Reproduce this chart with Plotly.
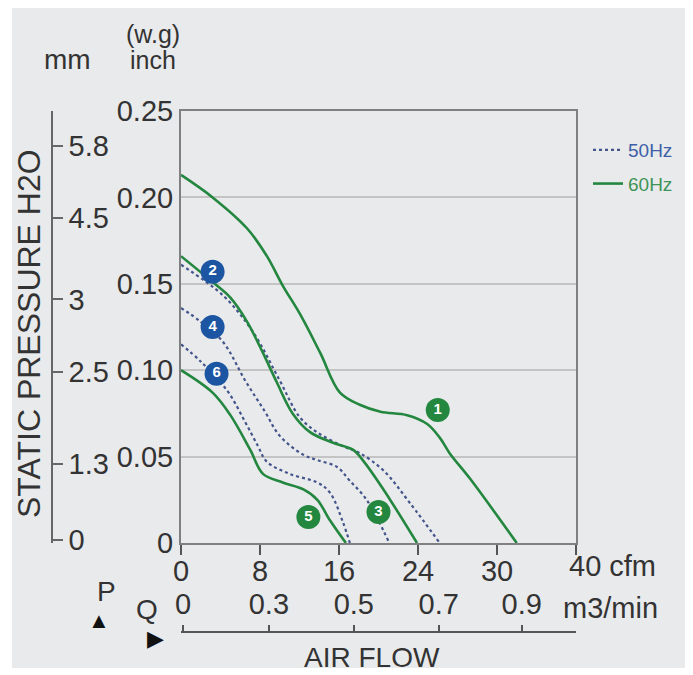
import plotly.graph_objects as go

# ---------------- data ----------------
# 60 Hz curves (green, solid)
c1_x = [0, 3.2, 6.7, 8.7, 10.3, 12.1, 14.1, 16.1, 18.1, 20.2, 22.9, 24.9, 26.2, 27.2, 29.3, 34.0]
c1_y = [0.213, 0.200, 0.182, 0.166, 0.149, 0.132, 0.110, 0.087, 0.080, 0.076, 0.074, 0.069, 0.061, 0.052, 0.037, 0.0]
c3_x = [0, 3.2, 5.0, 6.7, 8.3, 9.7, 11.3, 13.1, 15.4, 17.4, 18.4, 20.5, 23.9]
c3_y = [0.166, 0.151, 0.142, 0.128, 0.110, 0.093, 0.075, 0.064, 0.058, 0.054, 0.048, 0.031, 0.0]
c5_x = [0, 3.2, 5.0, 7.0, 8.3, 10.3, 12.4, 13.8, 15.1, 16.7]
c5_y = [0.100, 0.087, 0.074, 0.054, 0.040, 0.035, 0.031, 0.025, 0.013, 0.0]
# 50 Hz curves (blue, dotted)
c2_x = [0, 4.3, 7.3, 10.0, 12.0, 13.8, 16.4, 18.1, 20.5, 23.2, 26.2]
c2_y = [0.161, 0.143, 0.122, 0.094, 0.073, 0.064, 0.056, 0.052, 0.042, 0.023, 0.0]
c4_x = [0, 2.0, 4.3, 6.5, 8.5, 10.0, 12.4, 13.8, 15.8, 17.1, 18.8, 21.1]
c4_y = [0.136, 0.128, 0.116, 0.094, 0.076, 0.062, 0.051, 0.048, 0.044, 0.036, 0.025, 0.0]
c6_x = [0, 2.0, 4.7, 6.5, 7.8, 8.7, 11.0, 13.8, 15.1, 16.4, 17.1]
c6_y = [0.115, 0.105, 0.088, 0.070, 0.056, 0.047, 0.040, 0.035, 0.029, 0.012, 0.0]

# curve number badges
badge_labels = ["1", "2", "3", "4", "5", "6"]
badge_x = [26.0, 3.2, 20.0, 3.2, 12.9, 3.6]
badge_y = [0.077, 0.157, 0.018, 0.125, 0.015, 0.098]
badge_hz = ["60Hz", "50Hz", "60Hz", "50Hz", "60Hz", "50Hz"]

# tick labels
inch_ticks = [0, 0.05, 0.10, 0.15, 0.20, 0.25]
inch_labels = ["0", "0.05", "0.10", "0.15", "0.20", "0.25"]
mm_labels = ["0", "1.3", "2.5", "3", "4.5", "5.8"]
cfm_ticks = [0, 8, 16, 24, 32, 40]
cfm_labels = ["0", "8", "16", "24", "30", ""]
m3_labels = ["0", "0.3", "0.5", "0.7", "0.9"]

GREEN = "#23873f"
BLUE_LINE = "#44558c"
BLUE_BADGE = "#1c56a3"
TXT = "#333333"
FONT = "Arial, Liberation Sans, sans-serif"

# the page puts the figure 8 px from the top-left corner
OX, OY = 8, 8
W, H = 685, 667
ML, MR, MT, MB = 2, 117, 2, 12
PW, PH = W - ML - MR, H - MT - MB


def px(xp, yp):
    """picture pixel -> paper fraction"""
    return (xp - OX - ML) / PW, (H - MB - (yp - OY)) / PH


x0d, _ = px(181, 0)
_, y0d = px(0, 543)
_, y1d = px(0, 111)

fig = go.Figure()

curves = [
    (c2_x, c2_y, "50Hz"), (c4_x, c4_y, "50Hz"), (c6_x, c6_y, "50Hz"),
    (c1_x, c1_y, "60Hz"), (c3_x, c3_y, "60Hz"), (c5_x, c5_y, "60Hz"),
]
shown = set()
for xs, ys, hz in curves:
    is50 = hz == "50Hz"
    col = BLUE_LINE if is50 else GREEN
    name_html = ("<span style='color:#3e5fa8'>50Hz</span>" if is50
                 else "<span style='color:#3d9456'>60Hz</span>")
    fig.add_trace(go.Scatter(
        x=xs, y=ys, mode="lines", line_shape="spline",
        line=dict(color=col, width=2.2 if is50 else 2.6, dash="dot" if is50 else "solid"),
        name=name_html, legendgroup=hz, showlegend=hz not in shown,
        hoverinfo="skip",
    ))
    shown.add(hz)

fig.add_trace(go.Scatter(
    x=badge_x, y=badge_y, mode="markers+text",
    text=["<b>%s</b>" % b for b in badge_labels],
    textposition="middle center",
    textfont=dict(color="white", size=15, family=FONT),
    marker=dict(size=24, color=[GREEN if h == "60Hz" else BLUE_BADGE for h in badge_hz],
                line=dict(width=0)),
    showlegend=False, hoverinfo="skip", cliponaxis=False,
))

# helper trace so that the secondary axes exist
fig.add_trace(go.Scatter(x=[None], y=[None], xaxis="x2", yaxis="y2",
                         showlegend=False, hoverinfo="skip"))

FS = 29
tickfont = dict(family=FONT, size=FS, color=TXT)

fig.update_layout(
    width=W, height=H,
    margin=dict(l=ML, r=MR, t=MT, b=MB, autoexpand=False),
    paper_bgcolor="white", plot_bgcolor="white",
    font=dict(family=FONT, color=TXT),
    xaxis=dict(domain=[x0d, 1], range=[0, 40], autorange=False, automargin=False,
               tickvals=cfm_ticks, ticktext=cfm_labels, tickfont=tickfont,
               ticks="outside", ticklen=10, tickwidth=1.5, tickcolor="#555",
               ticklabelstandoff=-9,
               showline=True, linecolor="#808080", linewidth=2, mirror=True,
               showgrid=False, zeroline=False, fixedrange=True),
    yaxis=dict(domain=[y0d, y1d], range=[0, 0.25], autorange=False, automargin=False,
               tickvals=inch_ticks, ticktext=inch_labels, tickfont=tickfont,
               ticks="", showline=True, linecolor="#808080", linewidth=2, mirror=True,
               showgrid=True, gridcolor="#c4c4c4", gridwidth=1.5, zeroline=False,
               fixedrange=True),
    yaxis2=dict(overlaying="y", anchor="free", position=px(52, 0)[0], side="right",
                range=[0, 0.25], autorange=False, automargin=False,
                tickvals=[0.002, 0.046, 0.099, 0.141, 0.188, 0.230], ticktext=mm_labels,
                tickfont=tickfont, ticks="outside", ticklen=10, tickwidth=1.5,
                tickcolor="#666", showline=True, linecolor="#666", linewidth=1.5,
                showgrid=False, zeroline=False, fixedrange=True),
    xaxis2=dict(overlaying="x", anchor="free", position=px(0, 632)[1], side="top",
                range=[0, 40], autorange=False, automargin=False,
                tickvals=[0.2, 8.9, 17.5, 26.1, 34.5], ticktext=m3_labels,
                tickfont=tickfont, ticks="outside", ticklen=6, tickwidth=1.5,
                tickcolor="#555", showline=True, linecolor="#555", linewidth=1.5,
                showgrid=False, zeroline=False, fixedrange=True),
    legend=dict(x=px(588, 0)[0], y=px(0, 131)[1], xanchor="left", yanchor="top",
                font=dict(family=FONT, size=19), bgcolor="rgba(0,0,0,0)",
                traceorder="grouped", tracegroupgap=6, itemwidth=30),
    showlegend=True,
)

# grey page background
bx0, by0 = px(12, 668)
bx1, by1 = px(693, 7)
fig.add_shape(type="rect", xref="paper", yref="paper", x0=bx0, y0=by0, x1=bx1, y1=by1,
              fillcolor="#e9eaec", line=dict(width=0), layer="below")


def ann(text, xp, yp, size=FS, xanchor="center", angle=0, color=TXT):
    ax, ay = px(xp, yp)
    fig.add_annotation(text=text, x=ax, y=ay, xref="paper", yref="paper",
                       showarrow=False, xanchor=xanchor, yanchor="middle",
                       textangle=angle, font=dict(family=FONT, size=size, color=color))


ann("STATIC PRESSURE H2O", 29, 334, size=32, angle=-90)
ann("mm", 67, 59, size=28)
ann("(w.g)", 153, 34, size=25)
ann("inch", 153, 60, size=25)
ann("40 cfm", 567, 566, xanchor="left")
ann("m3/min", 561, 608, xanchor="left")
ann("AIR FLOW", 372, 657, size=28)
ann("P", 106, 591, size=28)
ann("\u25B2", 99, 620, size=22, color="#111")
ann("Q", 147, 609, size=28)
ann("\u25B6", 155, 638, size=22, color="#111")

fig.write_html("out.html")
